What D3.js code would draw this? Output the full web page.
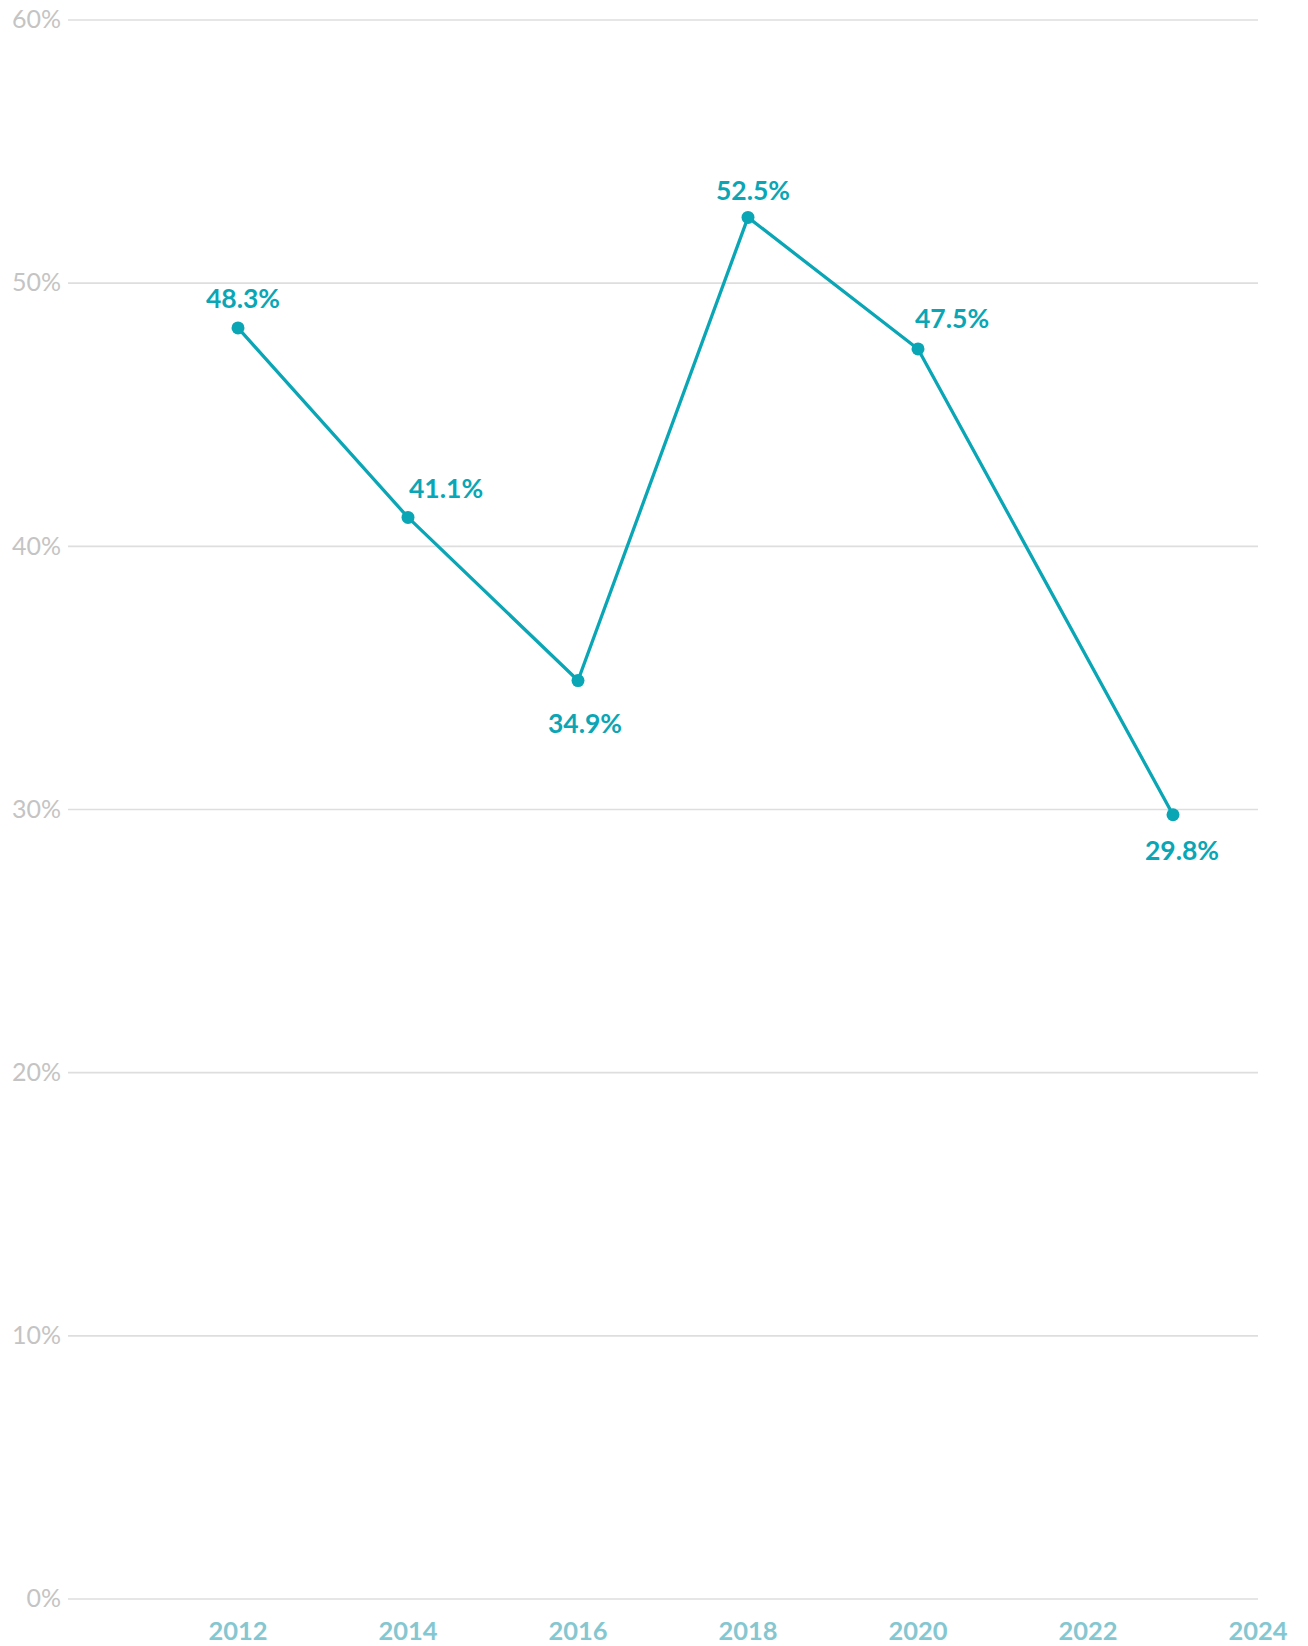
<!DOCTYPE html>
<html>
<head>
<meta charset="utf-8">
<script src="https://cdn.jsdelivr.net/npm/d3@7"></script>
<style>
  html, body { margin: 0; padding: 0; background: #ffffff; }
  svg { display: block; }
</style>
</head>
<body>
<div id="chart"></div>
<script>
// ---- data ----
const years = [2012, 2014, 2016, 2018, 2020, 2023];
const values = [48.3, 41.1, 34.9, 52.5, 47.5, 29.8];
const valueLabels = ["48.3%", "41.1%", "34.9%", "52.5%", "47.5%", "29.8%"];
const yTickValues = [0, 10, 20, 30, 40, 50, 60];
const yTickLabels = ["0%", "10%", "20%", "30%", "40%", "50%", "60%"];
const xTickValues = [2012, 2014, 2016, 2018, 2020, 2022, 2024];
const xTickLabels = ["2012", "2014", "2016", "2018", "2020", "2022", "2024"];

// ---- layout ----
const W = 1308, H = 1646;
const svg = d3.select("#chart").append("svg").attr("width", W).attr("height", H);

const x = d3.scaleLinear().domain([2010, 2024]).range([68, 1258]);
const y = d3.scaleLinear().domain([0, 60]).range([1599, 20]);

const lineColor = "#0aa6b5";
const font = "Lato, 'Open Sans', sans-serif";

// gridlines
const grid = svg.append("g");
grid.selectAll("line").data(yTickValues).join("line")
  .attr("x1", x.range()[0]).attr("x2", x.range()[1])
  .attr("y1", d => y(d)).attr("y2", d => y(d))
  .attr("stroke", "#dedede").attr("stroke-width", 1.6);

// y axis labels
svg.append("g").selectAll("text").data(yTickValues).join("text")
  .attr("x", x.range()[0] - 7)
  .attr("y", d => y(d))
  .attr("dy", "0.33em")
  .attr("text-anchor", "end")
  .attr("font-family", font)
  .attr("font-size", 25)
  .attr("fill", "#c4c4c4")
  .text((d, i) => yTickLabels[i]);

// x axis labels
svg.append("g").selectAll("text").data(xTickValues).join("text")
  .attr("x", d => x(d))
  .attr("y", y(0) + 41)
  .attr("text-anchor", "middle")
  .attr("font-family", font)
  .attr("font-weight", 700)
  .attr("font-size", 25.5)
  .attr("fill", "#85c7d1")
  .text((d, i) => xTickLabels[i]);

const pts = years.map((yr, i) => ({ yr, v: values[i], label: valueLabels[i] }));

// line
svg.append("path")
  .datum(pts)
  .attr("fill", "none")
  .attr("stroke", lineColor)
  .attr("stroke-width", 3.3)
  .attr("stroke-linejoin", "round")
  .attr("d", d3.line().x(d => x(d.yr)).y(d => y(d.v)));

// points
svg.append("g").selectAll("circle").data(pts).join("circle")
  .attr("cx", d => x(d.yr)).attr("cy", d => y(d.v))
  .attr("r", 6.5).attr("fill", lineColor);

// value labels (placement relative to each point)
const placement = [
  { anchor: "middle", dx: 5, dy: -20 },
  { anchor: "start", dx: 1, dy: -19 },
  { anchor: "middle", dx: 7, dy: 52 },
  { anchor: "middle", dx: 5, dy: -17 },
  { anchor: "start", dx: -3, dy: -21 },
  { anchor: "middle", dx: 9, dy: 45 }
];
svg.append("g").selectAll("text").data(pts).join("text")
  .attr("x", (d, i) => x(d.yr) + placement[i].dx)
  .attr("y", (d, i) => y(d.v) + placement[i].dy)
  .attr("text-anchor", (d, i) => placement[i].anchor)
  .attr("font-family", font)
  .attr("font-weight", 700)
  .attr("font-size", 26.5)
  .attr("fill", lineColor)
  .text(d => d.label);
</script>
</body>
</html>
